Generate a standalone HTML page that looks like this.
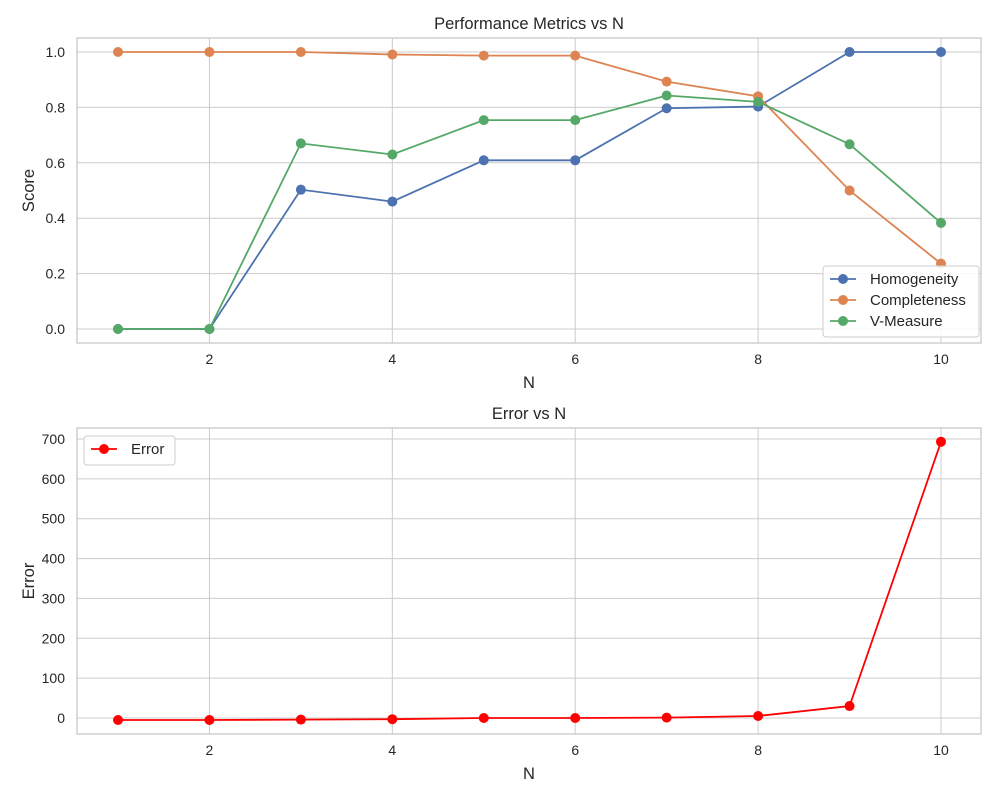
<!DOCTYPE html>
<html><head><meta charset="utf-8"><style>
body{margin:0;background:#fff}
svg text{font-family:"Liberation Sans",Arial,sans-serif;fill:#262626}
</style></head><body>
<svg id="c" width="1000" height="800" xmlns="http://www.w3.org/2000/svg"></svg>
<script>
const nValues=[1,2,3,4,5,6,7,8,9,10];
const homogeneity=[0,0,0.503,0.46,0.609,0.609,0.797,0.803,1,1];
const completeness=[1,1,1,0.991,0.987,0.987,0.893,0.84,0.5,0.236];
const vMeasure=[0,0,0.67,0.63,0.754,0.754,0.843,0.82,0.667,0.383];
const errorValues=[-5,-5,-4,-3,0,0,1,5,30,693];
const xTicks=[2,4,6,8,10];
const scoreTicks=[0,0.2,0.4,0.6,0.8,1.0];
const errorTicks=[0,100,200,300,400,500,600,700];

const svg=document.getElementById('c');
const NS='http://www.w3.org/2000/svg';
function el(t,a,p){const e=document.createElementNS(NS,t);for(const k in a)e.setAttribute(k,a[k]);(p||svg).appendChild(e);return e;}
const xs=v=>118+(v-1)*(941-118)/9;
const ys1=v=>329-v*277;
const ys2=v=>718-v*(718-439)/700;

function axes(name,top,bottom,ys,ticks,fmt,title,ylabel){
  const g=el('g',{});
  
  
  xTicks.forEach(t=>{
    const l=el('line',{x1:xs(t),x2:xs(t),y1:top,y2:bottom,stroke:'#cccccc','stroke-width':1},g);
    
    const tx=el('text',{x:xs(t),y:bottom+21,'text-anchor':'middle','font-size':14},g);
    tx.textContent=t;
    
  });
  ticks.forEach(t=>{
    const l=el('line',{x1:77,x2:981,y1:ys(t),y2:ys(t),stroke:'#cccccc','stroke-width':1},g);
    
    const tx=el('text',{x:65,y:ys(t)+5,'text-anchor':'end','font-size':14},g);
    tx.textContent=fmt(t);
    
  });
  const r=el('rect',{x:77,y:top,width:904,height:bottom-top,fill:'none',stroke:'#c8c8c8','stroke-width':1.3},g);
  
  const tt=el('text',{x:529,y:top-9,'text-anchor':'middle','font-size':16.5},g);
  tt.textContent=title;
  const xl=el('text',{x:529,y:bottom+45,'text-anchor':'middle','font-size':16.5},g);
  xl.textContent='N';
  const yl=el('text',{x:34,y:(top+bottom)/2,'text-anchor':'middle','font-size':16.5,transform:`rotate(-90 34 ${(top+bottom)/2})`},g);
  yl.textContent=ylabel;
}
function series(name,vals,ys,color){
  const g=el('g',{});
  
  
  const p=el('polyline',{points:vals.map((v,i)=>xs(nValues[i])+','+ys(v)).join(' '),fill:'none',stroke:color,'stroke-width':1.8},g);
  
  vals.forEach((v,i)=>{
    const c=el('circle',{cx:xs(nValues[i]),cy:ys(v),r:5,fill:color},g);
    
  });
}
axes('performance-axes',38,343,ys1,scoreTicks,t=>t.toFixed(1),'Performance Metrics vs N','Score');
axes('error-axes',428,734,ys2,errorTicks,t=>String(t),'Error vs N','Error');
series('homogeneity-series',homogeneity,ys1,'#4c72b0');
series('completeness-series',completeness,ys1,'#dd8452');
series('v-measure-series',vMeasure,ys1,'#55a868');
series('error-series',errorValues,ys2,'#ff0000');

function legend(name,x,y,w,items){
  const g=el('g',{});
  
  
  const r=el('rect',{x:x,y:y,width:w,height:items.length*21+8,rx:3,fill:'#fff','fill-opacity':0.85,stroke:'#cccccc'},g);
  
  items.forEach((it,i)=>{
    const cy=y+13+i*21;
    const l=el('line',{x1:x+7,x2:x+33,y1:cy,y2:cy,stroke:it[1],'stroke-width':1.8},g);
    
    const c=el('circle',{cx:x+20,cy:cy,r:5,fill:it[1]},g);
    
    const t=el('text',{x:x+47,y:cy+5,'font-size':15},g);
    t.textContent=it[0];
  });
}
legend('performance-legend',823,266,156,[['Homogeneity','#4c72b0'],['Completeness','#dd8452'],['V-Measure','#55a868']]);
legend('error-legend',84,436,91,[['Error','#ff0000']]);
</script>
</body></html>
